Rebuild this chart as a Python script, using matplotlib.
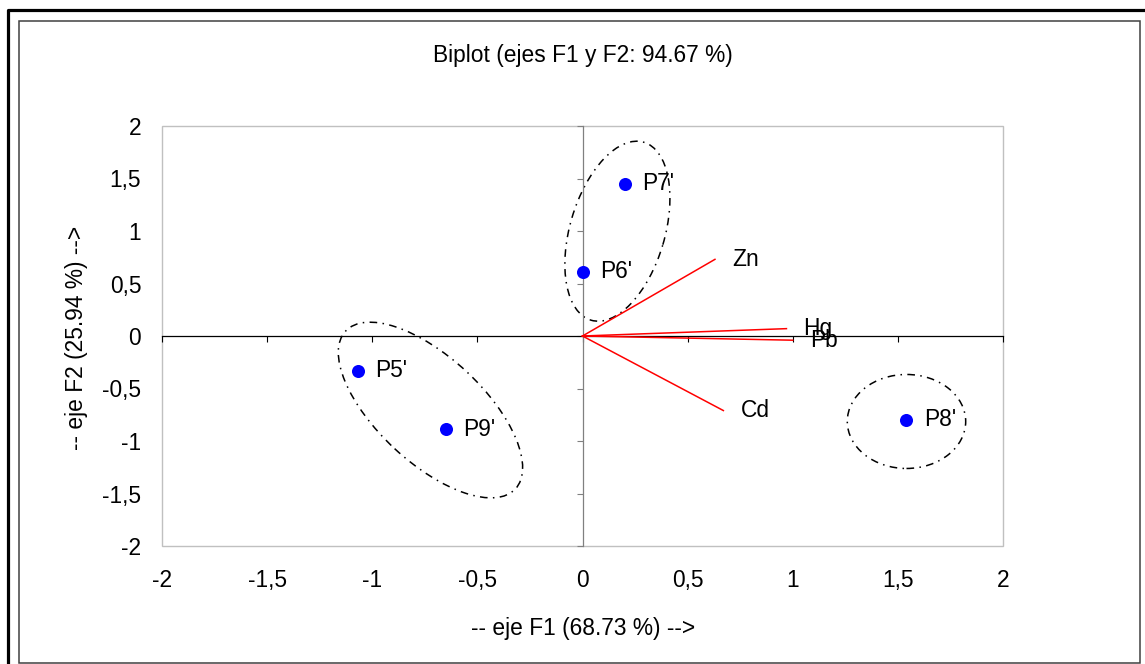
import numpy as np
import matplotlib
matplotlib.use('Agg')
import matplotlib.pyplot as plt
from matplotlib.patches import Ellipse, Rectangle
from matplotlib.lines import Line2D
from matplotlib.transforms import ScaledTranslation
from matplotlib.ticker import FuncFormatter

# ---- data ----
obs_labels = ["P5'", "P6'", "P7'", "P8'", "P9'"]
obs_f1 = [-1.07, 0.0, 0.20, 1.54, -0.65]
obs_f2 = [-0.33, 0.61, 1.45, -0.80, -0.89]

var_labels = ["Zn", "Hg", "Pb", "Cd"]
var_f1 = [0.63, 0.97, 1.00, 0.67]
var_f2 = [0.73, 0.07, -0.04, -0.71]

title = "Biplot (ejes F1 y F2: 94.67 %)"
xlabel = "-- eje F1 (68.73 %) -->"
ylabel = "-- eje F2 (25.94 %) -->"
ticks = [-2, -1.5, -1, -0.5, 0, 0.5, 1, 1.5, 2]

# group ellipses: centre (F1, F2), semi-axes (px), angle (deg)
groups_cx = [0.166, -0.723, 1.541]
groups_cy = [0.998, -0.705, -0.814]
groups_a = [92.8, 115.9, 59.2]
groups_b = [47.4, 52.7, 47.0]
groups_ang = [73.5, -42.9, 0.0]

plt.rcParams['font.family'] = ['Liberation Sans', 'DejaVu Sans']
FS = 16.4
W, H = 1145, 664
fig = plt.figure(figsize=(W / 100, H / 100), dpi=100)

# outer frame decorations
fig.add_artist(Line2D([8 / W, 8 / W, 1.0], [0.0, 1 - 10 / H, 1 - 10 / H],
                      transform=fig.transFigure, color='black', lw=2.3))
fig.add_artist(Rectangle((19 / W, 1 - 663 / H), (1140 - 19) / W, (663 - 21) / H,
                         transform=fig.transFigure, fill=False,
                         edgecolor='#404040', lw=1.1))

ax = fig.add_axes([162 / W, 1 - 546 / H, (1003 - 162) / W, (546 - 126) / H])
ax.set_xlim(-2, 2)
ax.set_ylim(-2, 2)

for s in ['top', 'right']:
    ax.spines[s].set_visible(False)
ax.spines['bottom'].set_position(('data', 0))
ax.spines['left'].set_position(('data', 0))
ax.spines['bottom'].set_color('black')
ax.spines['bottom'].set_linewidth(0.9)
ax.spines['left'].set_color('#808080')
ax.spines['left'].set_linewidth(0.9)
ax.set_xticks(ticks)
ax.set_yticks(ticks)
ax.tick_params(axis='x', direction='out', length=4.5, width=0.8, color='black',
               labelbottom=False)
ax.tick_params(axis='y', direction='out', length=4.5, width=0.8, color='#808080',
               labelleft=False)
ax.add_patch(Rectangle((0, 0), 1, 1, transform=ax.transAxes, fill=False,
                       edgecolor='#c0c0c0', lw=1.0, zorder=0.5, clip_on=False))

fmt = FuncFormatter(lambda v, p: ('%g' % v).replace('.', ','))
secx = ax.secondary_xaxis(0.0)
secx.set_xticks(ticks)
secx.xaxis.set_major_formatter(fmt)
secx.tick_params(length=0, pad=16.8, labelsize=FS)
secx.spines['bottom'].set_visible(False)
secy = ax.secondary_yaxis(0.0)
secy.set_yticks(ticks)
secy.yaxis.set_major_formatter(fmt)
secy.tick_params(length=0, pad=15, labelsize=FS)
secy.spines['left'].set_visible(False)

# variable vectors
for lab, x, y in zip(var_labels, var_f1, var_f2):
    ax.plot([0, x], [0, y], color='#ff0000', lw=1.1, zorder=3)
    ax.annotate(lab, (x, y), xytext=(12.3, 0), textcoords='offset points',
                ha='left', va='center', fontsize=FS, color='black', zorder=4)

# observations
ax.plot(obs_f1, obs_f2, 'o', color='#0000ff', markersize=9.4, zorder=5,
        markeredgewidth=0)
for lab, x, y in zip(obs_labels, obs_f1, obs_f2):
    ax.annotate(lab, (x, y), xytext=(12.5, 0), textcoords='offset points',
                ha='left', va='center', fontsize=FS, color='black', zorder=6)

# group ellipses
for cx, cy, a, b, ang in zip(groups_cx, groups_cy, groups_a, groups_b, groups_ang):
    tr = fig.dpi_scale_trans + ScaledTranslation(cx, cy, ax.transData)
    e = Ellipse((0, 0), width=2 * a / 100, height=2 * b / 100, angle=ang,
                transform=tr, fill=False, edgecolor='black', lw=1.1,
                linestyle=(0, (5, 3.5, 1, 3.5)), zorder=2)
    ax.add_patch(e)

fig.text(582.5 / W, 1 - 61.7 / H, title, ha='center', va='baseline', fontsize=FS)
fig.text(582.7 / W, 1 - 635 / H, xlabel, ha='center', va='baseline', fontsize=FS)
fig.text(76 / W, 1 - 337.5 / H, ylabel, ha='center', va='center', rotation=90,
         fontsize=FS)

fig.savefig('out.png', dpi=100)
